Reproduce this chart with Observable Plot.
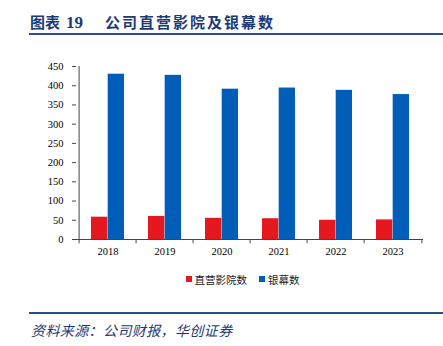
<!DOCTYPE html>
<html><head><meta charset="utf-8">
<script src="https://cdn.jsdelivr.net/npm/d3@7"></script>
<script src="https://cdn.jsdelivr.net/npm/@observablehq/plot@0.6"></script>
<style>
body{margin:0;background:#fff;width:443px;height:346px;position:relative;overflow:hidden;}
#title{position:absolute;left:30px;top:11px;height:22px;line-height:22px;white-space:nowrap;color:#1d3a78;font-weight:bold;font-size:15px;font-family:"Noto Sans CJK SC",sans-serif;}
#title .num{font-family:"Liberation Serif",serif;font-size:17px;margin-left:6px;}
#title .main{margin-left:22px;letter-spacing:2px;}
#rule1{position:absolute;left:29px;right:0;top:33px;height:2px;background:#2a4f8f;}
#chart{position:absolute;left:0;top:40px;}
#legend{position:absolute;left:0;width:485px;top:271px;height:16px;display:flex;justify-content:center;align-items:center;font-family:"Noto Sans CJK SC",sans-serif;font-size:10.5px;color:#222;}
#legend .item{display:flex;align-items:center;margin:0 6px;}
#legend .sw{width:6px;height:6px;margin-right:3px;}
#rule2{position:absolute;left:29px;right:0;top:312px;height:2px;background:#2a4f8f;}
#source{position:absolute;left:31px;top:320px;line-height:20px;font-size:14px;font-style:italic;letter-spacing:0.4px;color:#1d3a78;font-family:"Noto Sans CJK SC",sans-serif;white-space:nowrap;}
</style></head><body>
<div id="title"><span>图表</span><span class="num">19</span><span class="main">公司直营影院及银幕数</span></div>
<div id="rule1"></div>
<div id="chart"></div>
<div id="legend"></div>
<div id="rule2"></div>
<div id="source">资料来源：公司财报，华创证券</div>
<script>
const years = ["2018", "2019", "2020", "2021", "2022", "2023"];
const cinemas = [58, 60, 55, 54, 50, 51];
const screens = [430, 427, 391, 394, 388, 377];
const seriesNames = ["直营影院数", "银幕数"];
const seriesColors = ["#E3191F", "#005EB8"];
const yTicks = [0, 50, 100, 150, 200, 250, 300, 350, 400, 450];

const W = 443, H = 225, mL = 76, mR = 20, mT = 26, mB = 26;
const step = (W - mL - mR) / years.length;
const pad = 0.423;
const half = step * (1 - pad) / 2;
const rows = years.map((y, i) => ({year: y, cinemas: cinemas[i], screens: screens[i]}));
const axisColor = "#444";

const chart = Plot.plot({
  width: W, height: H, marginLeft: mL, marginRight: mR, marginTop: mT, marginBottom: mB,
  style: {fontFamily: "'Liberation Serif', 'Times New Roman', serif", fontSize: "10.5px", color: "#000", background: "transparent"},
  x: {domain: years, paddingInner: pad, paddingOuter: pad / 2, label: null, axis: null},
  y: {domain: [0, 450], label: null, axis: null},
  marks: [
    Plot.barY(rows, {x: "year", y: "cinemas", fill: seriesColors[0], insetLeft: 0, insetRight: half}),
    Plot.barY(rows, {x: "year", y: "screens", fill: seriesColors[1], insetLeft: half, insetRight: 0}),
    Plot.ruleY([0], {stroke: axisColor}),
    Plot.ruleX(years, {x: d => d, dx: -step / 2, y1: -11, y2: 0, stroke: axisColor}),
    Plot.ruleX([years[years.length - 1]], {x: d => d, dx: step / 2, y1: -11, y2: 0, stroke: axisColor}),
    Plot.ruleX([years[0]], {x: d => d, dx: -step / 2, y1: 0, y2: 450, stroke: axisColor}),
    Plot.axisY({ticks: yTicks, tickSize: 4, tickPadding: 9, label: null, stroke: axisColor, fill: "#000"}),
    Plot.axisX({tickSize: 0, tickPadding: 8, label: null, fill: "#000"})
  ]
});
document.getElementById("chart").appendChild(chart);

const legend = document.getElementById("legend");
seriesNames.forEach((name, i) => {
  const item = document.createElement("div");
  item.className = "item";
  const sw = document.createElement("span");
  sw.className = "sw";
  sw.style.background = seriesColors[i];
  const lab = document.createElement("span");
  lab.textContent = name;
  item.appendChild(sw);
  item.appendChild(lab);
  legend.appendChild(item);
});
</script>
</body></html>
